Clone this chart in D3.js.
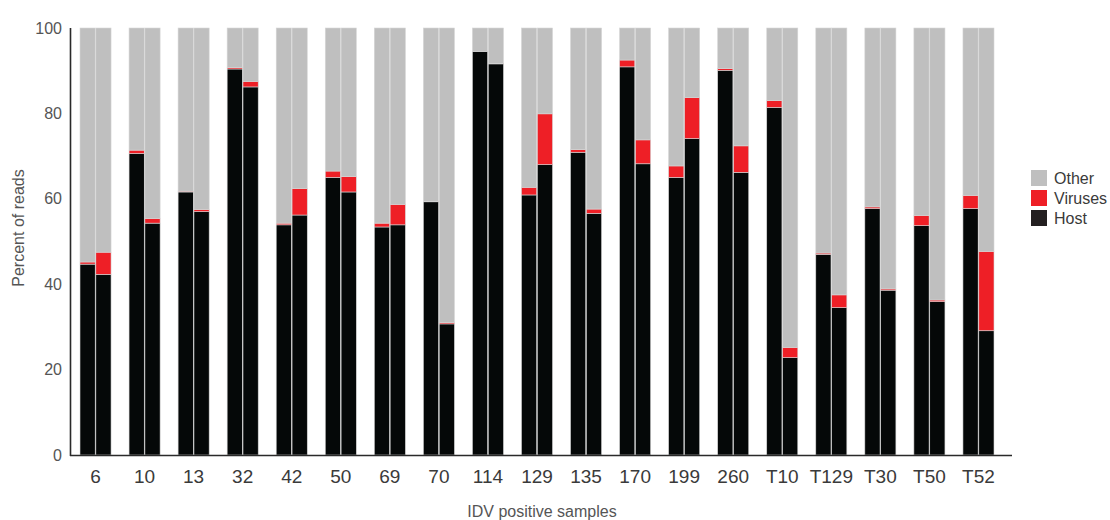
<!DOCTYPE html>
<html>
<head>
<meta charset="utf-8">
<script src="https://cdn.jsdelivr.net/npm/d3@7"></script>
<style>
  body { margin: 0; background: #fff; }
  text { font-family: "Liberation Sans", Arial, sans-serif; fill: #3a3a3a; }
</style>
</head>
<body>
<div id="chart"></div>
<script>
const width = 1110;
const height = 520;

// sample groups on the x axis, two runs per sample
const samples = ["6", "10", "13", "32", "42", "50", "69", "70", "114", "129",
    "135", "170", "199", "260", "T10", "T129", "T30", "T50", "T52"];
const runs = ["a", "b"];

// percent of reads per run: [first run, second run]
const hostValues = [
    [44.7, 42.3], [70.6, 54.3], [61.6, 57.0], [90.4, 86.2], [53.9, 56.2],
    [65.0, 61.6], [53.4, 53.9], [59.3, 30.7], [94.5, 91.6], [60.9, 68.0],
    [70.9, 56.6], [90.9, 68.2], [65.0, 74.1], [90.1, 66.2], [81.4, 22.8],
    [47.0, 34.5], [57.7, 38.6], [53.7, 35.9], [57.7, 29.1]
];
const virusValues = [
    [0.5, 5.2], [0.8, 1.1], [0.2, 0.5], [0.3, 1.3], [0.4, 6.2],
    [1.5, 3.6], [0.9, 4.8], [0.1, 0.3], [0.0, 0.1], [1.8, 11.9],
    [0.6, 1.0], [1.6, 5.6], [2.7, 9.6], [0.4, 6.2], [1.6, 2.4],
    [0.3, 3.0], [0.4, 0.3], [2.4, 0.4], [3.1, 18.6]
];

const yTicks = [0, 20, 40, 60, 80, 100];
const legendLabels = ["Other", "Viruses", "Host"];

const colors = { host: "#050808", viruses: "#ee1f26", other: "#bfbfbf" };
const legendColors = ["#bfbfbf", "#ee1f26", "#231f20"];

const svg = d3.select("#chart").append("svg")
    .attr("width", width)
    .attr("height", height);

const x = d3.scaleBand()
    .domain(samples)
    .range([80, 994])
    .paddingInner(0.367)
    .paddingOuter(0);

const xRun = d3.scaleBand()
    .domain(runs)
    .range([0, x.bandwidth()])
    .paddingInner(0.04);

const y = d3.scaleLinear()
    .domain([0, 100])
    .range([455, 28]);

// flatten into one row per bar
const bars = [];
samples.forEach((s, i) => {
    runs.forEach((r, j) => {
        const host = hostValues[i][j];
        const viruses = virusValues[i][j];
        bars.push({ sample: s, run: r, host: host, viruses: viruses, other: 100 - host - viruses });
    });
});

const stack = d3.stack().keys(["host", "viruses", "other"]);
const series = stack(bars);

svg.append("g")
    .selectAll("g")
    .data(series)
    .join("g")
    .attr("fill", d => colors[d.key])
    .selectAll("rect")
    .data(d => d)
    .join("rect")
    .attr("x", d => x(d.data.sample) + xRun(d.data.run))
    .attr("width", xRun.bandwidth())
    .attr("y", d => y(d[1]))
    .attr("height", d => Math.max(0, y(d[0]) - y(d[1])))
    .attr("stroke", "#d6d6d6")
    .attr("stroke-width", 0.6);

// axes lines
svg.append("line")
    .attr("x1", 70.5).attr("x2", 70.5)
    .attr("y1", y(100)).attr("y2", y(0) + 1)
    .attr("stroke", "#2a2a2a")
    .attr("stroke-width", 1.6);

svg.append("line")
    .attr("x1", 70).attr("x2", 1012)
    .attr("y1", y(0) + 0.5).attr("y2", y(0) + 0.5)
    .attr("stroke", "#2a2a2a")
    .attr("stroke-width", 1.6);

// y tick labels
svg.append("g")
    .selectAll("text")
    .data(yTicks)
    .join("text")
    .attr("x", 62)
    .attr("y", d => y(d))
    .attr("dy", "0.35em")
    .attr("text-anchor", "end")
    .style("font-size", "16px")
    .style("fill", "#555")
    .text(d => d);

// x tick labels
svg.append("g")
    .selectAll("text")
    .data(samples)
    .join("text")
    .attr("x", d => x(d) + x.bandwidth() / 2)
    .attr("y", 483)
    .attr("text-anchor", "middle")
    .style("font-size", "19px")
    .text(d => d);

// axis titles
svg.append("text")
    .attr("transform", "translate(24, 228) rotate(-90)")
    .attr("text-anchor", "middle")
    .style("font-size", "16px")
    .style("fill", "#555")
    .text("Percent of reads");

svg.append("text")
    .attr("x", 542)
    .attr("y", 517)
    .attr("text-anchor", "middle")
    .style("font-size", "16px")
    .style("fill", "#555")
    .text("IDV positive samples");

// legend
const legend = svg.append("g")
    .attr("transform", "translate(1031, 170)");

legend.selectAll("rect")
    .data(legendLabels)
    .join("rect")
    .attr("x", 0)
    .attr("y", (d, i) => i * 20)
    .attr("width", 16)
    .attr("height", 16)
    .attr("fill", (d, i) => legendColors[i]);

legend.selectAll("text")
    .data(legendLabels)
    .join("text")
    .attr("x", 23)
    .attr("y", (d, i) => i * 20 + 14)
    .style("font-size", "16px")
    .text(d => d);
</script>
</body>
</html>
